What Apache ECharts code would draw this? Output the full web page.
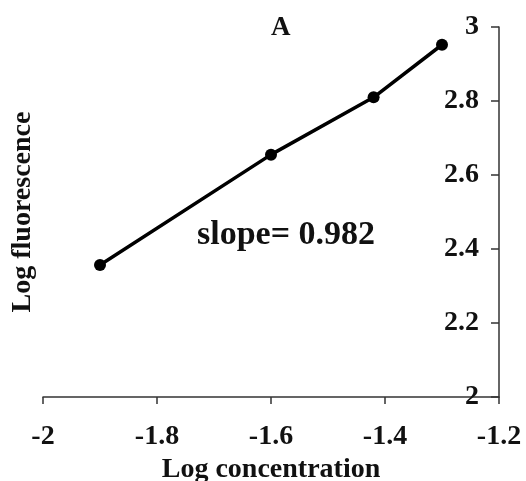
<!DOCTYPE html>
<html>
<head>
<meta charset="utf-8">
<script src="https://cdn.jsdelivr.net/npm/echarts@6/dist/echarts.min.js"></script>
<style>
  html, body { margin: 0; padding: 0; background: #fff; }
  #chart { width: 526px; height: 481px; }
</style>
</head>
<body>
<div id="chart"></div>
<script>
// data
const logConc = [-1.9, -1.6, -1.42, -1.3];
const logFluor = [2.357, 2.655, 2.81, 2.952];
const slopeText = 'slope= 0.982';

const serif = '"Liberation Serif", "Times New Roman", serif';
const chart = echarts.init(document.getElementById('chart'));

chart.setOption({
  backgroundColor: '#fff',
  animation: false,
  title: {
    text: 'A',
    left: 266,
    top: 10,
    textStyle: { fontFamily: serif, fontWeight: 'bold', fontSize: 27, color: '#111' }
  },
  grid: { left: 43, right: 27, top: 27, bottom: 84, containLabel: false, outerBoundsMode: 'none' },
  xAxis: {
    type: 'value',
    min: -2,
    max: -1.2,
    interval: 0.2,
    name: 'Log concentration',
    nameLocation: 'middle',
    nameGap: 55,
    nameTextStyle: { fontFamily: serif, fontWeight: 'bold', fontSize: 28, color: '#111' },
    axisLine: { lineStyle: { color: '#333', width: 1.5 } },
    axisTick: { length: 7, lineStyle: { color: '#333', width: 1.5 } },
    axisLabel: {
      margin: 26,
      fontFamily: serif, fontWeight: 'bold', fontSize: 28, color: '#111',
      formatter: v => String(Math.round(v * 10) / 10)
    },
    splitLine: { show: false }
  },
  yAxis: [{
    type: 'value',
    position: 'right',
    min: 2,
    max: 3,
    interval: 0.2,
    axisLine: { show: true, lineStyle: { color: '#333', width: 1.5 } },
    axisTick: { show: true, inside: true, length: 8, lineStyle: { color: '#333', width: 1.5 } },
    axisLabel: {
      inside: true,
      margin: 20,
      fontFamily: serif, fontWeight: 'bold', fontSize: 28, color: '#111',
      formatter: v => String(Math.round(v * 10) / 10)
    },
    splitLine: { show: false }
  }, {
    type: 'value',
    position: 'left',
    min: 2,
    max: 3,
    name: 'Log fluorescence',
    nameLocation: 'middle',
    nameGap: 6,
    nameTextStyle: { fontFamily: serif, fontWeight: 'bold', fontSize: 28, color: '#111' },
    axisLine: { show: false },
    axisTick: { show: false },
    axisLabel: { show: false },
    splitLine: { show: false }
  }],
  series: [{
    type: 'line',
    data: logConc.map((x, i) => [x, logFluor[i]]),
    symbol: 'circle',
    symbolSize: 12,
    itemStyle: { color: '#000' },
    lineStyle: { color: '#000', width: 3.5 }
  }],
  graphic: [{
    type: 'text',
    left: 197,
    top: 218,
    style: {
      text: slopeText,
      font: 'bold 34px ' + serif,
      fill: '#111'
    }
  }]
});
</script>
</body>
</html>
